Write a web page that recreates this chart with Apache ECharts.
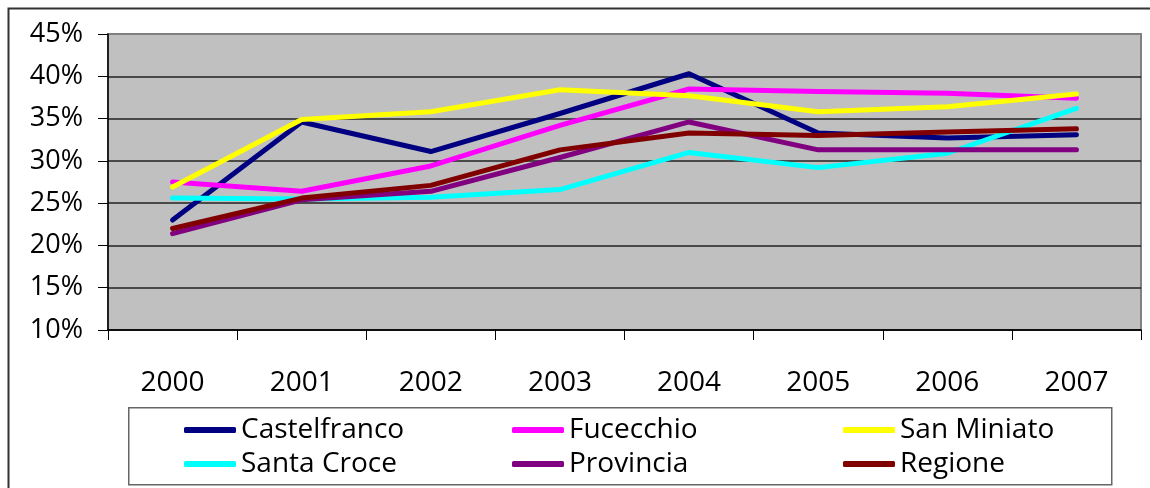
<!DOCTYPE html>
<html>
<head>
<meta charset="utf-8">
<script src="https://cdn.jsdelivr.net/npm/echarts@6/dist/echarts.min.js"></script>
<style>
  html, body { margin: 0; padding: 0; background: #fff; }
  #main { width: 1150px; height: 488px; }
</style>
</head>
<body>
<div id="main"></div>
<script>
// anni e valori (%)
var years = ['2000', '2001', '2002', '2003', '2004', '2005', '2006', '2007']
var castelfranco = [23.0, 34.6, 31.1, 35.6, 40.3, 33.3, 32.7, 33.1]
var fucecchio = [27.5, 26.4, 29.4, 34.2, 38.5, 38.2, 38.0, 37.4]
var sanMiniato = [26.9, 34.9, 35.8, 38.4, 37.7, 35.8, 36.4, 37.9]
var santaCroce = [25.6, 25.5, 25.7, 26.6, 31.0, 29.2, 30.9, 36.2]
var provincia = [21.4, 25.4, 26.4, 30.4, 34.6, 31.3, 31.3, 31.3]
var regione = [22.0, 25.6, 27.1, 31.3, 33.3, 33.0, 33.4, 33.8]
var yTicks = [10, 15, 20, 25, 30, 35, 40, 45]

var font = 'Open Sans'

function serie(name, data, color) {
  return {
    name: name,
    type: 'line',
    data: data,
    color: color,
    symbol: 'none',
    lineStyle: { width: 5, color: color, cap: 'round', join: 'round' }
  }
}

function legenda(left, names) {
  return {
    orient: 'vertical',
    left: left,
    top: 413,
    padding: 0,
    itemGap: 0,
    itemWidth: 52,
    itemHeight: 6,
    icon: 'roundRect',
    data: names,
    textStyle: { fontFamily: font, fontSize: 28, color: '#000', lineHeight: 34 }
  }
}

var myChart = echarts.init(document.getElementById('main'))
var option = {
  animation: false,
  backgroundColor: '#fff',
  textStyle: { fontFamily: font },
  graphic: [
    // cornice esterna
    { type: 'rect', left: 6, top: 6, shape: { width: 1170, height: 520 },
      style: { fill: 'none', stroke: '#333', lineWidth: 2 }, z: -1 },
    // riquadro legenda
    { type: 'rect', left: 128, top: 407, shape: { width: 983, height: 77 },
      style: { fill: '#fff', stroke: '#666', lineWidth: 1.5 }, z: -1 }
  ],
  grid: {
    left: 108, right: 9, top: 34, bottom: 158,
    show: true,
    backgroundColor: '#C0C0C0',
    borderColor: '#808080',
    borderWidth: 2
  },
  legend: [
    legenda(184, ['Castelfranco', 'Santa Croce']),
    legenda(512, ['Fucecchio', 'Provincia']),
    legenda(843, ['San Miniato', 'Regione'])
  ],
  xAxis: {
    type: 'category',
    data: years,
    boundaryGap: true,
    axisLine: { lineStyle: { color: '#000', width: 1.5 } },
    axisTick: { show: true, length: 10, lineStyle: { color: '#000', width: 1 } },
    axisLabel: { fontFamily: font, fontSize: 28, color: '#000', margin: 39 }
  },
  yAxis: {
    type: 'value',
    min: yTicks[0],
    max: yTicks[yTicks.length - 1],
    interval: 5,
    axisLine: { show: true, lineStyle: { color: '#000', width: 1.5 } },
    axisTick: { show: true, length: 10, lineStyle: { color: '#000', width: 1 } },
    axisLabel: { fontFamily: font, fontSize: 27, color: '#000', margin: 25, formatter: '{value}%' },
    splitLine: {
      show: true,
      lineStyle: { color: ['#222', '#222', '#222', '#222', '#222', '#222', '#222', '#808080'], width: 1.5 }
    }
  },
  series: [
    serie('Castelfranco', castelfranco, '#000080'),
    serie('Fucecchio', fucecchio, '#FF00FF'),
    serie('San Miniato', sanMiniato, '#FFFF00'),
    serie('Santa Croce', santaCroce, '#00FFFF'),
    serie('Provincia', provincia, '#800080'),
    serie('Regione', regione, '#800000')
  ]
}
myChart.setOption(option)
</script>
</body>
</html>
